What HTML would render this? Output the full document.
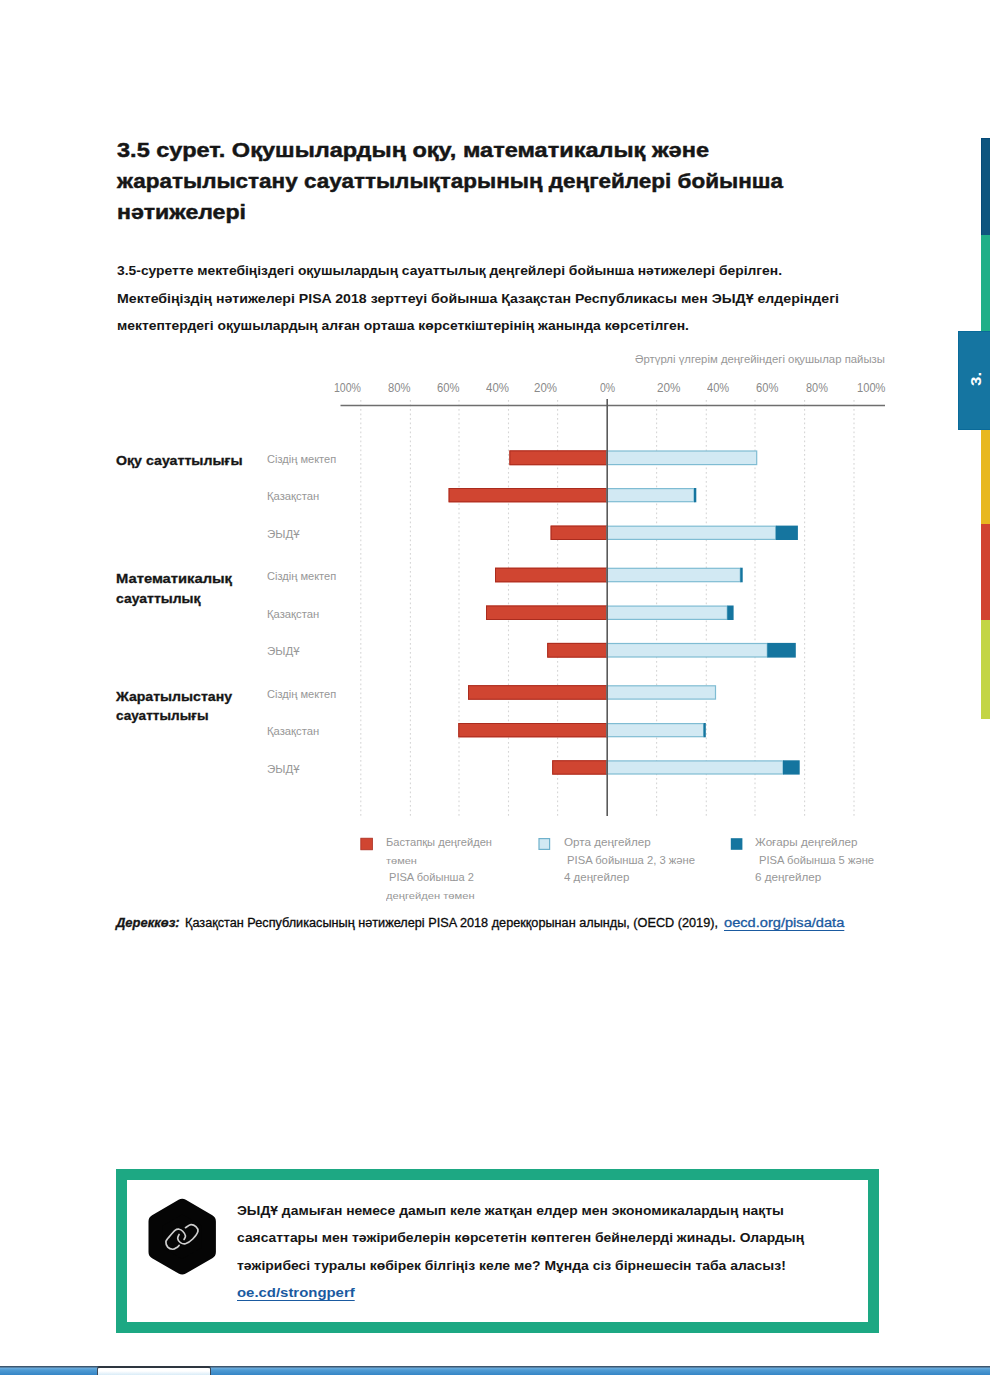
<!DOCTYPE html>
<html lang="kk"><head><meta charset="utf-8"><title>3.5 сурет</title>
<style>
html,body{margin:0;padding:0;background:#fff;}
body{width:990px;height:1375px;position:relative;overflow:hidden;font-family:"Liberation Sans",sans-serif;}
.abs{position:absolute;}
.t{position:absolute;white-space:pre;line-height:1;transform-origin:0 0;font-family:"Liberation Sans",sans-serif;}
</style></head><body>
<!-- right colour strip -->
<div class="abs" style="left:980.5px;top:138px;width:10px;height:97.2px;background:#0e557f;border-left:1px solid #064a78;border-top:1px solid #064a78;box-sizing:border-box;"></div>
<div class="abs" style="left:980.5px;top:235.2px;width:10px;height:97px;background:#1faf88;"></div>
<div class="abs" style="left:980.5px;top:429.5px;width:10px;height:95px;background:#e8b81f;"></div>
<div class="abs" style="left:980.5px;top:523.7px;width:10px;height:96.6px;background:#d14430;"></div>
<div class="abs" style="left:980.5px;top:619.5px;width:10px;height:99.3px;background:#c3d545;"></div>
<div class="abs" style="left:958px;top:331.3px;width:32px;height:98.8px;background:#1575a1;border:1px solid #0a6a99;border-right:0;box-sizing:border-box;"></div>
<span class="abs" style="left:968.9px;top:385.8px;color:#fff;font-size:14px;font-weight:bold;line-height:1;letter-spacing:0.2px;transform:rotate(-90deg) scaleX(1.2);transform-origin:0 0;white-space:pre;">3.</span>
<svg class="abs" style="left:0;top:0" width="990" height="1375" viewBox="0 0 990 1375">
<line x1="360.8" y1="400" x2="360.8" y2="816" stroke="#d6d6d6" stroke-width="1.1" stroke-dasharray="1.8 2.7"/>
<line x1="410.4" y1="400" x2="410.4" y2="816" stroke="#d6d6d6" stroke-width="1.1" stroke-dasharray="1.8 2.7"/>
<line x1="459" y1="400" x2="459" y2="816" stroke="#d6d6d6" stroke-width="1.1" stroke-dasharray="1.8 2.7"/>
<line x1="508.5" y1="400" x2="508.5" y2="816" stroke="#d6d6d6" stroke-width="1.1" stroke-dasharray="1.8 2.7"/>
<line x1="557.6" y1="400" x2="557.6" y2="816" stroke="#d6d6d6" stroke-width="1.1" stroke-dasharray="1.8 2.7"/>
<line x1="656.6" y1="400" x2="656.6" y2="816" stroke="#d6d6d6" stroke-width="1.1" stroke-dasharray="1.8 2.7"/>
<line x1="706.3" y1="400" x2="706.3" y2="816" stroke="#d6d6d6" stroke-width="1.1" stroke-dasharray="1.8 2.7"/>
<line x1="755.0" y1="400" x2="755.0" y2="816" stroke="#d6d6d6" stroke-width="1.1" stroke-dasharray="1.8 2.7"/>
<line x1="804.6" y1="400" x2="804.6" y2="816" stroke="#d6d6d6" stroke-width="1.1" stroke-dasharray="1.8 2.7"/>
<line x1="854.0" y1="400" x2="854.0" y2="816" stroke="#d6d6d6" stroke-width="1.1" stroke-dasharray="1.8 2.7"/>
<line x1="340.5" y1="405.6" x2="885" y2="405.6" stroke="#6e6e6e" stroke-width="1.5"/>
<rect x="509.4" y="450.4" width="97.6" height="14.8" fill="#d04531"/>
<rect x="509.9" y="450.9" width="96.6" height="13.8" fill="none" stroke="#aa2c1e" stroke-width="1"/>
<rect x="607.0" y="451.0" width="149.7" height="13.6" fill="#d2e9f3" stroke="#7fbcd3" stroke-width="1.2"/>
<rect x="448.6" y="488.0" width="158.4" height="14.3" fill="#d04531"/>
<rect x="449.1" y="488.5" width="157.4" height="13.3" fill="none" stroke="#aa2c1e" stroke-width="1"/>
<rect x="607.0" y="488.6" width="87.0" height="13.1" fill="#d2e9f3" stroke="#7fbcd3" stroke-width="1.2"/>
<rect x="694.0" y="488.0" width="2.3" height="14.3" fill="#15759f"/>
<rect x="550.6" y="525.6" width="56.4" height="14.4" fill="#d04531"/>
<rect x="551.1" y="526.1" width="55.4" height="13.4" fill="none" stroke="#aa2c1e" stroke-width="1"/>
<rect x="607.0" y="526.2" width="168.8" height="13.2" fill="#d2e9f3" stroke="#7fbcd3" stroke-width="1.2"/>
<rect x="775.8" y="525.6" width="22.1" height="14.4" fill="#15759f"/>
<rect x="495.0" y="567.7" width="112.0" height="14.6" fill="#d04531"/>
<rect x="495.5" y="568.2" width="111.0" height="13.6" fill="none" stroke="#aa2c1e" stroke-width="1"/>
<rect x="607.0" y="568.3000000000001" width="133.3" height="13.4" fill="#d2e9f3" stroke="#7fbcd3" stroke-width="1.2"/>
<rect x="740.3" y="567.7" width="2.4" height="14.6" fill="#15759f"/>
<rect x="486.0" y="605.5" width="121.0" height="14.5" fill="#d04531"/>
<rect x="486.5" y="606.0" width="120.0" height="13.5" fill="none" stroke="#aa2c1e" stroke-width="1"/>
<rect x="607.0" y="606.1" width="120.3" height="13.3" fill="#d2e9f3" stroke="#7fbcd3" stroke-width="1.2"/>
<rect x="727.3" y="605.5" width="6.3" height="14.5" fill="#15759f"/>
<rect x="547.2" y="642.9" width="59.8" height="14.7" fill="#d04531"/>
<rect x="547.7" y="643.4" width="58.8" height="13.7" fill="none" stroke="#aa2c1e" stroke-width="1"/>
<rect x="607.0" y="643.5" width="160.3" height="13.5" fill="#d2e9f3" stroke="#7fbcd3" stroke-width="1.2"/>
<rect x="767.3" y="642.9" width="28.5" height="14.7" fill="#15759f"/>
<rect x="468.0" y="685.2" width="139.0" height="14.5" fill="#d04531"/>
<rect x="468.5" y="685.7" width="138.0" height="13.5" fill="none" stroke="#aa2c1e" stroke-width="1"/>
<rect x="607.0" y="685.8000000000001" width="108.5" height="13.3" fill="#d2e9f3" stroke="#7fbcd3" stroke-width="1.2"/>
<rect x="458.3" y="723.0" width="148.7" height="14.3" fill="#d04531"/>
<rect x="458.8" y="723.5" width="147.7" height="13.3" fill="none" stroke="#aa2c1e" stroke-width="1"/>
<rect x="607.0" y="723.6" width="96.6" height="13.1" fill="#d2e9f3" stroke="#7fbcd3" stroke-width="1.2"/>
<rect x="703.6" y="723.0" width="2.2" height="14.3" fill="#15759f"/>
<rect x="552.2" y="760.3" width="54.8" height="14.3" fill="#d04531"/>
<rect x="552.7" y="760.8" width="53.8" height="13.3" fill="none" stroke="#aa2c1e" stroke-width="1"/>
<rect x="607.0" y="760.9" width="176.0" height="13.1" fill="#d2e9f3" stroke="#7fbcd3" stroke-width="1.2"/>
<rect x="783.0" y="760.3" width="16.7" height="14.3" fill="#15759f"/>
<line x1="607.2" y1="399" x2="607.2" y2="816" stroke="#5a5a5a" stroke-width="1.6"/>
<rect x="360.8" y="838.2" width="11.6" height="11.6" fill="#d04531" stroke="#aa2c1e" stroke-width="0.8"/>
<rect x="539" y="838.6" width="10.6" height="10.8" fill="#d2e9f3" stroke="#6fb1cc" stroke-width="1.2"/>
<rect x="730.8" y="838.2" width="11.6" height="11.6" fill="#15759f"/>
</svg>
<!-- info box -->
<div class="abs" style="left:116px;top:1169px;width:762.6px;height:163.6px;border:solid #1da883;border-width:11.8px 11.3px 11.6px 11.3px;box-sizing:border-box;"></div>
<svg class="abs" style="left:140px;top:1190.6px" width="90" height="92" viewBox="140 1190 90 92">
<polygon points="182.2,1205.1 208.7,1220.4 208.7,1251.0 182.2,1266.3 155.7,1251.0 155.7,1220.4" fill="#050505" stroke="#050505" stroke-width="14.4" stroke-linejoin="round"/>
<g fill="none" stroke="#cfcfcf" stroke-width="1.7" stroke-linecap="round">
<path d="M184.09,1238.45 C184.32,1237.85 185.68,1236.18 185.45,1234.82 C185.23,1233.45 183.79,1231.37 182.73,1230.27 C181.67,1229.17 180.38,1228.38 179.09,1228.23 C177.80,1228.08 176.82,1227.89 175.00,1229.36 C173.18,1230.84 169.70,1235.20 168.18,1237.09 C166.67,1238.98 165.98,1239.21 165.91,1240.73 C165.83,1242.24 166.59,1244.93 167.73,1246.18 C168.86,1247.43 171.14,1248.23 172.73,1248.23 C174.32,1248.23 176.21,1246.83 177.27,1246.18 C178.33,1245.54 178.79,1244.67 179.09,1244.36"/>
<path d="M185.45,1226.64 C186.36,1226.14 189.17,1223.83 190.91,1223.68 C192.65,1223.53 194.73,1224.63 195.91,1225.73 C197.08,1226.83 198.48,1228.23 197.95,1230.27 C197.42,1232.32 194.81,1235.92 192.73,1238.00 C190.64,1240.08 187.50,1242.17 185.45,1242.77 C183.41,1243.38 181.74,1242.51 180.45,1241.64 C179.17,1240.77 177.95,1238.91 177.73,1237.55 C177.50,1236.18 178.86,1234.14 179.09,1233.45"/>
</g>
</svg>
<span class="t" id="t0" style="left:117.0px;top:139.9px;font-size:20.5px;color:#161616;font-weight:bold;-webkit-text-stroke:0.45px #161616;transform:scaleX(1.1483);">3.5 сурет. Оқушылардың оқу, математикалық және</span>
<span class="t" id="t1" style="left:117.0px;top:170.9px;font-size:20.5px;color:#161616;font-weight:bold;-webkit-text-stroke:0.45px #161616;transform:scaleX(1.0963);">жаратылыстану сауаттылықтарының деңгейлері бойынша</span>
<span class="t" id="t2" style="left:117.0px;top:201.9px;font-size:20.5px;color:#161616;font-weight:bold;-webkit-text-stroke:0.45px #161616;transform:scaleX(1.1269);">нәтижелері</span>
<span class="t" id="t3" style="left:117.0px;top:265.0px;font-size:12.5px;color:#161616;font-weight:bold;transform:scaleX(1.1085);">3.5-суретте мектебіңіздегі оқушылардың сауаттылық деңгейлері бойынша нәтижелері берілген.</span>
<span class="t" id="t4" style="left:117.0px;top:292.6px;font-size:12.5px;color:#161616;font-weight:bold;transform:scaleX(1.1317);">Мектебіңіздің нәтижелері PISA 2018 зерттеуі бойынша Қазақстан Республикасы мен ЭЫДҰ елдеріндегі</span>
<span class="t" id="t5" style="left:117.0px;top:320.2px;font-size:12.5px;color:#161616;font-weight:bold;transform:scaleX(1.1101);">мектептердегі оқушылардың алған орташа көрсеткіштерінің жанында көрсетілген.</span>
<span class="t" id="t6" style="left:634.7px;top:353.6px;font-size:10.5px;color:#979797;transform:scaleX(1.0796);">Әртүрлі үлгерім деңгейіндегі оқушылар пайызы</span>
<span class="t" id="t7" style="left:334.0px;top:381.8px;font-size:12.5px;color:#8a8a8a;transform:scaleX(0.8442);">100%</span>
<span class="t" id="t8" style="left:388.0px;top:381.8px;font-size:12.5px;color:#8a8a8a;transform:scaleX(0.8989);">80%</span>
<span class="t" id="t9" style="left:437.0px;top:381.8px;font-size:12.5px;color:#8a8a8a;transform:scaleX(0.8989);">60%</span>
<span class="t" id="t10" style="left:485.5px;top:381.8px;font-size:12.5px;color:#8a8a8a;transform:scaleX(0.9189);">40%</span>
<span class="t" id="t11" style="left:534.0px;top:381.8px;font-size:12.5px;color:#8a8a8a;transform:scaleX(0.9189);">20%</span>
<span class="t" id="t12" style="left:600.3px;top:381.8px;font-size:12.5px;color:#8a8a8a;transform:scaleX(0.8408);">0%</span>
<span class="t" id="t13" style="left:656.5px;top:381.8px;font-size:12.5px;color:#8a8a8a;transform:scaleX(0.9388);">20%</span>
<span class="t" id="t14" style="left:706.5px;top:381.8px;font-size:12.5px;color:#8a8a8a;transform:scaleX(0.8869);">40%</span>
<span class="t" id="t15" style="left:755.6px;top:381.8px;font-size:12.5px;color:#8a8a8a;transform:scaleX(0.8949);">60%</span>
<span class="t" id="t16" style="left:805.6px;top:381.8px;font-size:12.5px;color:#8a8a8a;transform:scaleX(0.8749);">80%</span>
<span class="t" id="t17" style="left:856.5px;top:381.8px;font-size:12.5px;color:#8a8a8a;transform:scaleX(0.8911);">100%</span>
<span class="t" id="t18" style="left:116.0px;top:454.3px;font-size:13px;color:#161616;font-weight:bold;-webkit-text-stroke:0.3px #161616;transform:scaleX(1.0905);">Оқу сауаттылығы</span>
<span class="t" id="t19" style="left:116.0px;top:571.7px;font-size:13px;color:#161616;font-weight:bold;-webkit-text-stroke:0.3px #161616;transform:scaleX(1.1341);">Математикалық</span>
<span class="t" id="t20" style="left:116.0px;top:592.0px;font-size:13px;color:#161616;font-weight:bold;-webkit-text-stroke:0.3px #161616;transform:scaleX(1.0749);">сауаттылық</span>
<span class="t" id="t21" style="left:116.0px;top:689.7px;font-size:13px;color:#161616;font-weight:bold;-webkit-text-stroke:0.3px #161616;transform:scaleX(1.0836);">Жаратылыстану</span>
<span class="t" id="t22" style="left:116.0px;top:709.0px;font-size:13px;color:#161616;font-weight:bold;-webkit-text-stroke:0.3px #161616;transform:scaleX(1.0437);">сауаттылығы</span>
<span class="t" id="t23" style="left:267.4px;top:454.0px;font-size:11px;color:#979797;transform:scaleX(1.0059);">Сіздің мектеп</span>
<span class="t" id="t24" style="left:267.4px;top:491.4px;font-size:11px;color:#979797;transform:scaleX(1.0238);">Қазақстан</span>
<span class="t" id="t25" style="left:267.4px;top:529.0px;font-size:11px;color:#979797;transform:scaleX(1.0442);">ЭЫДҰ</span>
<span class="t" id="t26" style="left:267.4px;top:571.2px;font-size:11px;color:#979797;transform:scaleX(1.0059);">Сіздің мектеп</span>
<span class="t" id="t27" style="left:267.4px;top:608.9px;font-size:11px;color:#979797;transform:scaleX(1.0238);">Қазақстан</span>
<span class="t" id="t28" style="left:267.4px;top:646.4px;font-size:11px;color:#979797;transform:scaleX(1.0442);">ЭЫДҰ</span>
<span class="t" id="t29" style="left:267.4px;top:688.6px;font-size:11px;color:#979797;transform:scaleX(1.0059);">Сіздің мектеп</span>
<span class="t" id="t30" style="left:267.4px;top:726.3px;font-size:11px;color:#979797;transform:scaleX(1.0238);">Қазақстан</span>
<span class="t" id="t31" style="left:267.4px;top:763.6px;font-size:11px;color:#979797;transform:scaleX(1.0442);">ЭЫДҰ</span>
<span class="t" id="t32" style="left:386.4px;top:836.9px;font-size:11.5px;color:#979797;transform:scaleX(0.9669);">Бастапқы деңгейден</span>
<span class="t" id="t33" style="left:386.4px;top:855.8px;font-size:9.5px;color:#979797;transform:scaleX(1.1572);">төмен</span>
<span class="t" id="t34" style="left:388.8px;top:872.0px;font-size:11.5px;color:#979797;transform:scaleX(0.9635);">PISA бойынша 2</span>
<span class="t" id="t35" style="left:386.4px;top:891.2px;font-size:9.5px;color:#979797;transform:scaleX(1.1762);">деңгейден төмен</span>
<span class="t" id="t36" style="left:563.6px;top:836.9px;font-size:11.5px;color:#979797;transform:scaleX(1.0135);">Орта деңгейлер</span>
<span class="t" id="t37" style="left:567.4px;top:854.5px;font-size:11.5px;color:#979797;transform:scaleX(0.9791);">PISA бойынша 2, 3 және</span>
<span class="t" id="t38" style="left:563.6px;top:872.1px;font-size:11.5px;color:#979797;transform:scaleX(1.0013);">4 деңгейлер</span>
<span class="t" id="t39" style="left:755.3px;top:836.9px;font-size:11.5px;color:#979797;transform:scaleX(1.0132);">Жоғары деңгейлер</span>
<span class="t" id="t40" style="left:758.7px;top:854.5px;font-size:11.5px;color:#979797;transform:scaleX(0.9750);">PISA бойынша 5 және</span>
<span class="t" id="t41" style="left:755.3px;top:872.1px;font-size:11.5px;color:#979797;transform:scaleX(1.0136);">6 деңгейлер</span>
<span class="t" id="t42" style="left:116.0px;top:916.6px;font-size:12.5px;color:#161616;font-weight:bold;font-style:italic;-webkit-text-stroke:0.3px #161616;transform:scaleX(1.0371);">Дереккөз:</span>
<span class="t" id="t43" style="left:184.8px;top:916.6px;font-size:12.5px;color:#0a0a0a;-webkit-text-stroke:0.3px #0a0a0a;transform:scaleX(1.0152);">Қазақстан Республикасының нәтижелері PISA 2018 дерекқорынан алынды, (OECD (2019),</span>
<span class="t" id="t44" style="left:723.5px;top:916.6px;font-size:12.5px;color:#1a5aa0;-webkit-text-stroke:0.3px #1a5aa0;text-decoration:underline;text-decoration-thickness:1.2px;text-underline-offset:2.7px;transform:scaleX(1.1696);">oecd.org/pisa/data</span>
<span class="t" id="t45" style="left:237.0px;top:1205.0px;font-size:12.5px;color:#161616;font-weight:bold;transform:scaleX(1.1090);">ЭЫДҰ дамыған немесе дамып келе жатқан елдер мен экономикалардың нақты</span>
<span class="t" id="t46" style="left:237.0px;top:1232.4px;font-size:12.5px;color:#161616;font-weight:bold;transform:scaleX(1.1103);">саясаттары мен тәжірибелерін көрсететін көптеген бейнелерді жинады. Олардың</span>
<span class="t" id="t47" style="left:237.0px;top:1259.8px;font-size:12.5px;color:#161616;font-weight:bold;transform:scaleX(1.1152);">тәжірибесі туралы көбірек білгіңіз келе ме? Мұнда сіз бірнешесін таба аласыз!</span>
<span class="t" id="t48" style="left:237.0px;top:1287.2px;font-size:12.5px;color:#1a5aa0;font-weight:bold;text-decoration:underline;text-decoration-thickness:1.2px;text-underline-offset:2.7px;transform:scaleX(1.1934);">oe.cd/strongperf</span>
<!-- taskbar -->
<div class="abs" style="left:0;top:1366.2px;width:990px;height:10px;background:linear-gradient(#3d566e 0,#3d566e 1.4px,#72b1e1 1.6px,#4f9bd3 4px,#3585c6 9px);"></div>
<div class="abs" style="left:97px;top:1366px;width:114px;height:10px;background:linear-gradient(#fff 0,#fff 3px,#cfe7f6 8px);border:1px solid #3f4a58;border-top:2px solid #2e3640;border-radius:3px 3px 0 0;box-sizing:border-box;"></div>
</body></html>
